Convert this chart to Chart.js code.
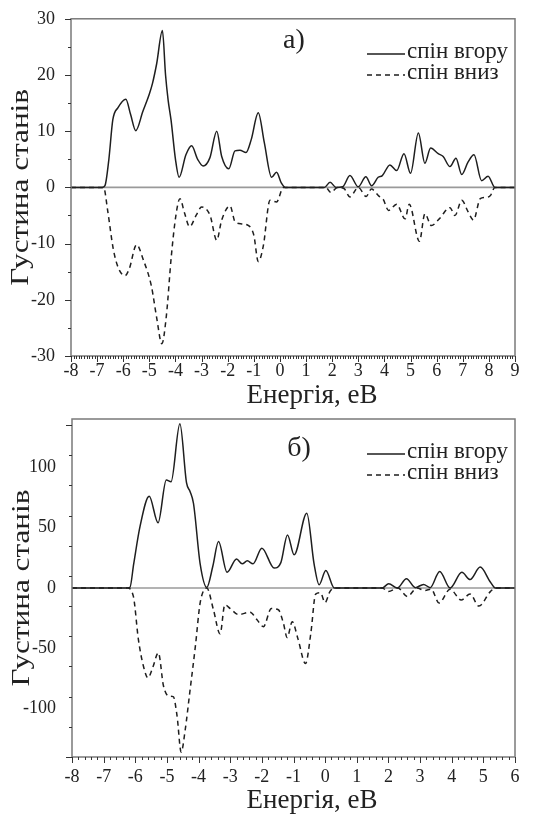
<!DOCTYPE html>
<html>
<head>
<meta charset="utf-8">
<script src="https://cdn.jsdelivr.net/npm/chart.js@4/dist/chart.umd.min.js"></script>
<style>
  body{ margin:0; background:#fff; }
  .wrap{ position:relative; width:549px; height:814px; }
  canvas{ display:block; position:absolute; left:0; }
  #chartA{ top:0; }
  #chartB{ top:400px; }
</style>
</head>
<body>
<div class="wrap">
<canvas id="chartA" width="549" height="414"></canvas>
<canvas id="chartB" width="549" height="414"></canvas>
</div>
<script>
// panel a) energies (eV) and densities of states
const aEnergyUp = [-8,-6.8,-6.7,-6.55,-6.4,-6.2,-5.9,-5.72,-5.52,-5.25,-5.0,-4.88,-4.72,-4.5,-4.38,-4.28,-4.17,-4.0,-3.86,-3.6,-3.38,-3.15,-2.94,-2.68,-2.42,-2.23,-1.96,-1.72,-1.53,-1.3,-1.1,-0.83,-0.6,-0.32,-0.13,0.05,0.2,1.7,1.92,2.15,2.4,2.68,3.0,3.29,3.51,3.76,3.92,4.21,4.47,4.75,5.0,5.3,5.55,5.77,6.06,6.25,6.51,6.74,6.96,7.2,7.43,7.72,7.97,8.23,9];
const aDosUp    = [0,0,0.3,5,12,14.2,15.7,13,10.1,13.5,16.6,18.5,22,27.9,20,15.5,12,5,1.8,5.8,7.4,5,3.8,5.3,10,5.5,3.3,6.5,6.6,6.2,8.5,13.3,8,1.8,2.7,0.8,0,0,0.9,0,0.1,2.1,0.1,1.9,0.3,1.8,2.1,4,3,6,2.5,9.7,4.3,7,6,5.5,3.7,5.2,2.3,4.5,5.8,1.2,2,0,0];
const aEnergyDn = [-8,-6.75,-6.6,-6.38,-6.19,-5.93,-5.77,-5.49,-5.23,-4.92,-4.73,-4.52,-4.35,-4.16,-3.99,-3.83,-3.65,-3.46,-3.2,-3.0,-2.68,-2.42,-2.23,-1.91,-1.72,-1.46,-1.2,-1.0,-0.83,-0.64,-0.38,-0.13,0.13,1.75,1.95,2.2,2.45,2.68,3.0,3.3,3.5,3.8,3.95,4.16,4.47,4.79,4.95,5.34,5.55,5.8,6.1,6.51,6.7,6.96,7.2,7.41,7.67,7.85,8.05,8.23,9];
const aDosDn    = [0,0,-4,-11,-14.3,-15.7,-14.5,-10.2,-12.9,-17.6,-22.9,-27.8,-22.9,-12.3,-5.2,-2.0,-4.6,-7.0,-4.9,-3.5,-4.9,-9.4,-5.8,-3.3,-6.1,-6.5,-6.8,-8.5,-13.2,-10.5,-2.3,-2.6,0,0,-0.9,0,-0.2,-1.7,0,-1.6,-0.3,-1.6,-2.1,-4.1,-3,-5.6,-3,-9.6,-4.7,-6.8,-5.6,-3.6,-5,-2.3,-4.3,-5.8,-2,-1.8,-1.5,0,0];

// panel б)
const bEnergyUp = [-8,-6.3,-6.17,-6.05,-5.85,-5.56,-5.28,-5.02,-4.87,-4.59,-4.38,-4.27,-4.16,-3.95,-3.74,-3.55,-3.37,-3.1,-2.8,-2.62,-2.46,-2.28,-2.0,-1.61,-1.4,-1.19,-0.98,-0.58,-0.35,-0.19,0.02,0.29,1.8,2.01,2.28,2.57,2.85,3.11,3.32,3.62,3.95,4.32,4.58,4.9,5.22,5.38,6];
const bDosUp    = [0,0,0.5,20,51,76,54,89.5,88,136,87,80,70,20,0.5,18,38.5,13,24,20,22.5,20,33,16.5,21,44,27.5,62,20,2.7,14.5,0,0,3.5,0,7.7,0.3,3,0.3,13.7,0,13,7,17.3,5,0,0];
const bEnergyDn = [-8,-6.25,-6.06,-5.9,-5.74,-5.6,-5.45,-5.27,-5.11,-4.94,-4.8,-4.68,-4.55,-4.42,-4.28,-4.1,-3.95,-3.74,-3.53,-3.32,-3.17,-3.0,-2.74,-2.37,-2.16,-1.95,-1.7,-1.48,-1.32,-1.2,-1.04,-0.86,-0.62,-0.45,-0.3,-0.15,0.0,0.15,0.3,1.8,2.0,2.3,2.6,2.9,3.15,3.35,3.6,3.95,4.3,4.58,4.86,5.22,5.38,6];
const bDosDn    = [0,0,-7,-43,-65,-74.4,-66,-53.7,-81,-89.6,-90,-106,-136,-117,-87,-48,-12.4,0,-18,-38,-14,-17,-22,-20,-26,-32,-17,-18,-29,-41,-28,-42,-62.6,-37,-5,-4,-12,-3,0,0,-3,0,-7,0,-2,-1,-12.4,-1,-10,-5,-15,-3,0,0];

// axes
const aXRange = [-8, 9],  aYRange = [-30, 30],  aYStep = 10, aYMinor = 5,  aXMinor = 0.1;
const bXRange = [-8, 6],  bYRange = [-140, 140], bYStep = 50, bYMinor = 25, bXMinor = 0.2;

const seriesNames = ['спін вгору', 'спін вниз'];
const xTitle = 'Енергія, еВ';
const yTitle = 'Густина станів';

Chart.defaults.font.family = "'Liberation Serif', 'Times New Roman', serif";
Chart.defaults.font.size = 18;
Chart.defaults.color = '#222';

function pts(xs, ys){ return xs.map((x, i) => ({x: x, y: ys[i]})); }

const decor = {
  id: 'decor',
  beforeDatasetsDraw(chart, args, o){
    const c = chart.ctx, a = chart.chartArea, y0 = chart.scales.y.getPixelForValue(0);
    c.save();
    c.strokeStyle = '#9a9a9a'; c.lineWidth = 1.6;
    c.beginPath(); c.moveTo(a.left, y0); c.lineTo(a.right, y0); c.stroke();
    c.restore();
  },
  afterDraw(chart, args, o){
    const c = chart.ctx, a = chart.chartArea, sx = chart.scales.x, sy = chart.scales.y;
    c.save();
    // frame
    c.strokeStyle = '#7a7a7a'; c.lineWidth = 1.5;
    c.strokeRect(a.left, a.top, a.right - a.left, a.bottom - a.top);
    // x ticks
    c.strokeStyle = '#333'; c.lineWidth = 1;
    const n = Math.round((sx.max - sx.min) / o.minorX);
    for(let i = 0; i <= n; i++){
      const v = sx.min + i * o.minorX;
      const major = Math.abs(v - Math.round(v)) < 1e-6;
      const p = Math.round(sx.getPixelForValue(v)) + 0.5;
      c.beginPath(); c.moveTo(p, a.bottom); c.lineTo(p, a.bottom + (major ? 6 : 3)); c.stroke();
    }
    // y ticks
    const m = Math.round((sy.max - sy.min) / o.minorY);
    for(let i = 0; i <= m; i++){
      const v = sy.min + i * o.minorY;
      const major = Math.abs(v / o.stepY - Math.round(v / o.stepY)) < 1e-6 || i === 0 || i === m;
      const p = Math.round(sy.getPixelForValue(v)) + 0.5;
      c.beginPath(); c.moveTo(a.left, p); c.lineTo(a.left - (major ? 6 : 3), p); c.stroke();
    }
    // axis titles
    c.fillStyle = '#222';
    c.font = "27px 'Liberation Serif', serif";
    c.textAlign = 'center'; c.textBaseline = 'alphabetic';
    c.fillText(xTitle, o.xTitleX, o.xTitleY);
    c.save();
    c.translate(o.yTitleX, (a.top + a.bottom) / 2);
    c.rotate(-Math.PI / 2);
    c.scale(1.2, 1);
    c.font = "26px 'Liberation Serif', serif";
    c.textBaseline = 'middle';
    c.fillText(yTitle, 0, 0);
    c.restore();
    // panel label
    c.font = "28px 'Liberation Serif', serif";
    c.textBaseline = 'middle';
    c.fillText(o.label, o.labelX, o.labelY);
    // legend
    c.font = "23px 'Liberation Serif', serif";
    c.textAlign = 'left';
    chart.data.datasets.forEach((ds, i) => {
      const ly = o.legendY + i * 21;
      c.strokeStyle = ds.borderColor; c.lineWidth = 1.5;
      c.setLineDash(ds.borderDash || []);
      c.beginPath(); c.moveTo(367, ly + 2); c.lineTo(405, ly + 2); c.stroke();
      c.setLineDash([]);
      c.fillText(ds.label, 407, ly);
    });
    c.restore();
  }
};

function makeChart(id, up, dn, xr, yr, stepY, pad, yWidth, xHeight, xPad, deco){
  return new Chart(document.getElementById(id), {
    type: 'line',
    data: {
      datasets: [
        { label: seriesNames[0], data: up, borderColor: '#1e1e1e', borderWidth: 1.5,
          pointRadius: 0, cubicInterpolationMode: 'monotone', fill: false },
        { label: seriesNames[1], data: dn, borderColor: '#1e1e1e', borderWidth: 1.5, borderDash: [5, 4],
          pointRadius: 0, cubicInterpolationMode: 'monotone', fill: false }
      ]
    },
    options: {
      responsive: false,
      animation: false,
      layout: { padding: pad },
      plugins: { legend: { display: false }, tooltip: { enabled: false }, decor: deco },
      scales: {
        x: {
          type: 'linear', min: xr[0], max: xr[1],
          grid: { display: false }, border: { display: false },
          ticks: { stepSize: 1, autoSkip: false, maxRotation: 0, padding: xPad },
          afterFit: s => { s.height = xHeight; }
        },
        y: {
          min: yr[0], max: yr[1],
          grid: { display: false }, border: { display: false },
          ticks: { stepSize: stepY, includeBounds: false, padding: 8 },
          afterFit: s => { s.width = yWidth; }
        }
      }
    },
    plugins: [decor]
  });
}

makeChart('chartA', pts(aEnergyUp, aDosUp), pts(aEnergyDn, aDosDn), aXRange, aYRange, aYStep,
  { top: 17, right: 34, left: 0, bottom: 0 }, 71, 58, -4,
  { label: 'а)', labelX: 294, labelY: 41, xTitleX: 312, xTitleY: 403, yTitleX: 21,
    minorX: aXMinor, minorY: aYMinor, stepY: aYStep, legendY: 52 });

makeChart('chartB', pts(bEnergyUp, bDosUp), pts(bEnergyDn, bDosDn), bXRange, bYRange, bYStep,
  { top: 19, right: 34, left: 0, bottom: 0 }, 72, 57, 1,
  { label: 'б)', labelX: 299, labelY: 49, xTitleX: 312, xTitleY: 408, yTitleX: 22,
    minorX: bXMinor, minorY: bYMinor, stepY: bYStep, legendY: 52 });
</script>
</body>
</html>
